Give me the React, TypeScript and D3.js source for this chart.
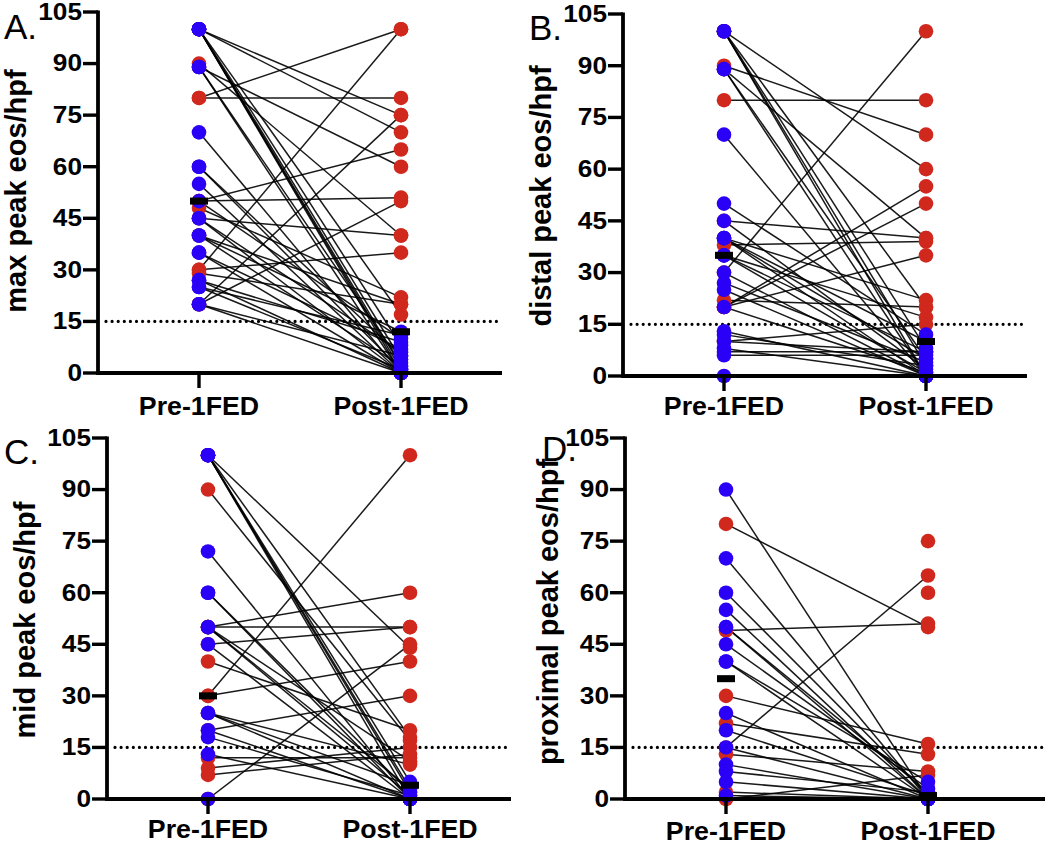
import React from "react";
import * as d3 from "d3";

const categories = ["Pre-1FED", "Post-1FED"];
const yTicks = [0, 15, 30, 45, 60, 75, 90, 105];
const threshold = 15;
const panelLetters = ["A.", "B.", "C.", "D."];
const yTitles = ["max peak eos/hpf", "distal peak eos/hpf", "mid peak eos/hpf", "proximal peak eos/hpf"];

type Subject = [number | null, number, "R" | "B"];

// [pre, post, group]
const subjectsA: Subject[] = [
  [80, 100, "R"], [30, 100, "R"], [80, 80, "R"], [20, 75, "R"], [100, 75, "R"], [100, 70, "R"],
  [50, 65, "R"], [89, 60, "R"], [50, 51, "R"], [20, 50, "R"], [45, 40, "R"], [90, 40, "R"],
  [30, 35, "R"], [48, 22, "R"], [29, 20, "R"], [100, 17, "R"], [40, 20, "R"],
  [100, 0, "B"], [100, 2, "B"], [100, 4, "B"], [100, 1, "B"], [100, 8, "B"], [89, 0, "B"],
  [89, 3, "B"], [70, 0, "B"], [60, 1, "B"], [60, 5, "B"], [55, 0, "B"], [50, 10, "B"],
  [45, 0, "B"], [45, 6, "B"], [40, 2, "B"], [40, 12, "B"], [35, 0, "B"], [35, 7, "B"],
  [27, 0, "B"], [27, 9, "B"], [25, 1, "B"], [25, 11, "B"], [20, 0, "B"], [20, 5, "B"],
];
const subjectsB: Subject[] = [
  [30, 100, "R"], [80, 80, "R"], [90, 70, "R"], [100, 60, "R"], [20, 55, "R"], [20, 50, "R"],
  [45, 40, "R"], [89, 40, "R"], [38, 39, "R"], [20, 35, "R"], [40, 22, "R"], [22, 20, "R"],
  [100, 20, "R"], [35, 17, "R"], [10, 15, "R"],
  [100, 0, "B"], [100, 3, "B"], [100, 8, "B"], [89, 0, "B"], [89, 5, "B"], [70, 0, "B"],
  [50, 12, "B"], [45, 2, "B"], [40, 0, "B"], [40, 5, "B"], [40, 10, "B"], [35, 1, "B"],
  [35, 7, "B"], [30, 0, "B"], [27, 4, "B"], [25, 0, "B"], [20, 1, "B"], [13, 0, "B"],
  [12, 3, "B"], [10, 7, "B"], [8, 0, "B"], [7, 7, "B"], [6, 6, "B"], [0, 0, "B"],
];
const subjectsC: Subject[] = [
  [30, 100, "R"], [0, 45, "R"], [50, 60, "R"], [50, 50, "R"], [45, 50, "R"], [30, 40, "R"],
  [20, 30, "R"], [100, 44, "R"], [90, 17, "R"], [40, 20, "R"], [100, 18, "R"], [12, 12, "R"],
  [9, 15, "R"], [7, 13, "R"], [25, 10, "R"], [50, 11, "R"],
  [100, 0, "B"], [100, 2, "B"], [100, 5, "B"], [100, 3, "B"], [72, 0, "B"], [60, 0, "B"],
  [60, 2, "B"], [50, 1, "B"], [50, 3, "B"], [45, 0, "B"], [25, 0, "B"], [25, 4, "B"],
  [20, 0, "B"], [18, 1, "B"], [13, 0, "B"], [0, 0, "B"],
];
const subjectsD: Subject[] = [
  [15, 65, "R"], [80, 50, "R"], [49, 51, "R"], [null, 75, "R"], [null, 60, "R"], [30, 16, "R"],
  [22, 13, "R"], [13, 8, "R"], [0, 7, "R"], [2, 0, "R"],
  [90, 0, "B"], [70, 0, "B"], [60, 1, "B"], [55, 0, "B"], [50, 2, "B"], [50, 0, "B"],
  [45, 3, "B"], [40, 0, "B"], [40, 5, "B"], [25, 0, "B"], [20, 1, "B"], [15, 0, "B"],
  [10, 0, "B"], [8, 2, "B"], [5, 0, "B"], [1, 0, "B"],
];

const mediansA = [50, 12];
const mediansB = [35, 10];
const mediansC = [30, 4];
const mediansD = [35, 1];

const allSubjects = [subjectsA, subjectsB, subjectsC, subjectsD];
const allMedians = [mediansA, mediansB, mediansC, mediansD];

const RED = "#d0281d";
const BLUE = "#2a00f6";
const FONT = "'Liberation Sans', Arial, Helvetica, sans-serif";

const layouts = [
  { axisX: 98, lineEnd: 502, y0: 373, yTop: 12, xLabelY: 415, titleX: 26, titleY: 191, letterX: 4, letterY: 39 },
  { axisX: 623, lineEnd: 1027, y0: 376, yTop: 14, xLabelY: 415, titleX: 551, titleY: 196, letterX: 529, letterY: 40 },
  { axisX: 107, lineEnd: 511, y0: 799, yTop: 438, xLabelY: 838, titleX: 35, titleY: 620, letterX: 4, letterY: 464 },
  { axisX: 625, lineEnd: 1045, y0: 799, yTop: 438, xLabelY: 840, titleX: 558, titleY: 612, letterX: 542, letterY: 461 },
];

function Panel({ idx }: { idx: number }) {
  const L = layouts[idx];
  const subjects = allSubjects[idx];
  const medians = allMedians[idx];
  const x = d3.scalePoint<string>().domain(categories).range([L.axisX, L.axisX + 404]).padding(0.5);
  const y = d3.scaleLinear().domain([0, 105]).range([L.y0, L.yTop]);
  const xPre = x(categories[0])!;
  const xPost = x(categories[1])!;
  const line = d3.line<[number, number]>();
  const r = 7.3;

  const pts = (g: "R" | "B") => {
    const out: JSX.Element[] = [];
    subjects.forEach((s, i) => {
      if (s[2] !== g) return;
      if (s[0] !== null) out.push(<circle key={`p${g}${i}`} cx={xPre} cy={y(s[0])} r={r} fill={g === "R" ? RED : BLUE} />);
      out.push(<circle key={`q${g}${i}`} cx={xPost} cy={y(s[1])} r={r} fill={g === "R" ? RED : BLUE} />);
    });
    return out;
  };

  return (
    <g>
      {subjects.filter((s) => s[0] !== null).map((s, i) => (
        <path key={`l${i}`} d={line([[xPre, y(s[0] as number)], [xPost, y(s[1])]])!} stroke="#000" strokeWidth={1.5} fill="none" strokeOpacity={0.9} />
      ))}
      <line x1={L.axisX + 8} x2={L.lineEnd} y1={y(threshold)} y2={y(threshold)} stroke="#000" strokeWidth={3.2} strokeLinecap="round" strokeDasharray="0,6.1" />
      {pts("R")}
      {pts("B")}
      {medians.map((m, i) => (
        <rect key={`m${i}`} x={(i === 0 ? xPre : xPost) - 9} y={y(m) - 3.5} width={18} height={7} fill="#000" />
      ))}
      <line x1={L.axisX} x2={L.axisX} y1={y(105) - 1.5} y2={y(0) + 2} stroke="#000" strokeWidth={3.8} />
      {yTicks.map((t) => (
        <g key={`t${t}`}>
          <line x1={L.axisX - 15} x2={L.axisX} y1={y(t)} y2={y(t)} stroke="#000" strokeWidth={3.4} />
          <text transform={`translate(${L.axisX - 16},${y(t)}) scale(1.14,1)`} textAnchor="end" dominantBaseline="central"
            fontFamily={FONT} fontWeight="bold" fontSize={23} fill="#000">{t}</text>
        </g>
      ))}
      <line x1={L.axisX} x2={L.lineEnd} y1={y(0)} y2={y(0)} stroke="#000" strokeWidth={3.8} />
      {categories.map((c) => (
        <g key={c}>
          <line x1={x(c)!} x2={x(c)!} y1={y(0)} y2={y(0) + 15} stroke="#000" strokeWidth={3.4} />
          <text transform={`translate(${x(c)!},${L.xLabelY}) scale(1.07,1)`} textAnchor="middle" fontFamily={FONT}
            fontWeight="bold" fontSize={25} fill="#000">{c}</text>
        </g>
      ))}
      <text transform={`translate(${L.titleX},${L.titleY}) rotate(-90)`} textAnchor="middle" fontFamily={FONT}
        fontWeight="bold" fontSize={29} fill="#000">{yTitles[idx]}</text>
      <text x={L.letterX} y={L.letterY} fontFamily={FONT} fontSize={35} fill="#000">{panelLetters[idx]}</text>
    </g>
  );
}

export default function App() {
  return (
    <svg width={1050} height={844} viewBox="0 0 1050 844" style={{ position: "absolute", left: 0, top: 0, background: "#fff" }}>
      <rect width={1050} height={844} fill="#fff" />
      {[0, 1, 2, 3].map((i) => (
        <Panel key={i} idx={i} />
      ))}
    </svg>
  );
}
